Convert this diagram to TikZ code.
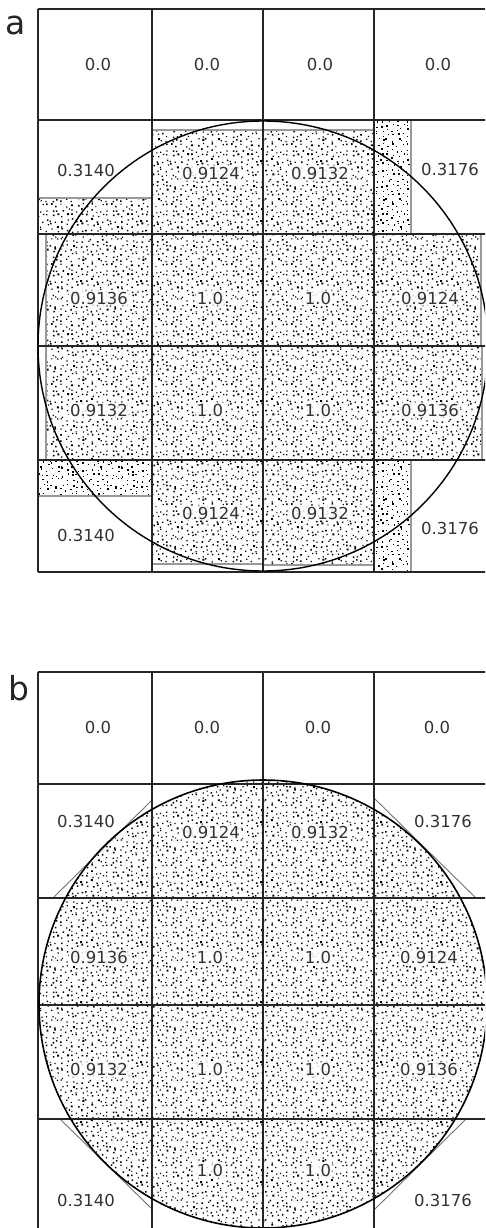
\documentclass[tikz,border=0pt]{standalone}
\usepackage{fontspec}
\newfontfamily\lblfont{DejaVu Sans}
\usetikzlibrary{patterns}

\pgfdeclarepatternformonly{stipple}{\pgfqpoint{0pt}{0pt}}{\pgfqpoint{60pt}{60pt}}{\pgfqpoint{60pt}{60pt}}{%
  \pgfmathsetseed{2024}%
  \foreach \i in {0,...,11}{%
    \foreach \j in {0,...,11}{%
      \pgfmathsetmacro\px{\i*5+rnd*4.0}%
      \pgfmathsetmacro\py{\j*5+rnd*4.0}%
      \pgfmathsetmacro\pr{rnd}%
      \pgfmathsetmacro\ps{\pr<0.12 ? 2.0 : (\pr<0.45 ? 1.55 : 1.25)}%
      \pgfpathrectangle{\pgfqpoint{\px pt}{\py pt}}{\pgfqpoint{\ps pt}{\ps pt}}%
      \pgfusepath{fill}%
    }%
  }%
}

\begin{document}
\begin{tikzpicture}[x=1pt,y=-1pt,
  gridline/.style={line width=1.4pt, draw=black!85},
  stipplebox/.style={pattern=stipple, pattern color=black, draw=black!40, line width=1.2pt},
  ring/.style={line width=1.4pt, draw=black},
  tanline/.style={line width=0.9pt, draw=black!55},
  val/.style={font=\lblfont\fontsize{16.5}{19}\selectfont, text=black!80, inner sep=1.5pt},
  valbg/.style={val, fill=white, fill opacity=0.85, text opacity=1, rounded corners=2pt},
  panel/.style={font=\lblfont\fontsize{33}{36}\selectfont, text=black!85, inner sep=0pt, anchor=base}]

\fill[white] (0,0) rectangle (485,1228);
\useasboundingbox (0,0) rectangle (485,1228);
\clip (0,0) rectangle (485,1228);

% ---------- panel a ----------
\foreach \xa/\ya/\xb/\yb in {38/198/152/234, 152/130/263/234, 263/130/374/234, 374/120/411/234,
  46/234/152/346, 152/234/263/346, 263/234/374/346, 374/234/481/346,
  46/346/152/460, 152/346/263/460, 263/346/374/460, 374/346/482/460,
  38/460/152/496, 152/460/263/564, 263/460/374/565, 374/460/411/572}
  \path[stipplebox] (\xa,\ya) rectangle (\xb,\yb);

\foreach \x in {38,152,263,374,487} \draw[gridline] (\x,9) -- (\x,572);
\foreach \y in {9,120,234,346,460,572} \draw[gridline] (38,\y) -- (487,\y);

\draw[ring] (263,346) circle[radius=225pt];

% ---------- panel b ----------
\fill[pattern=stipple, pattern color=black] (263,1004) circle[radius=224pt];

\coordinate (tl1) at (53,898);  \coordinate (tl2) at (152,800);
\coordinate (tr1) at (374,798); \coordinate (tr2) at (476,898);
\coordinate (bl1) at (60,1119); \coordinate (bl2) at (152,1209);
\coordinate (br1) at (466,1119);\coordinate (br2) at (374,1210);
\draw[tanline] (tl1) -- (tl2);
\draw[tanline] (tr1) -- (tr2);
\draw[tanline] (bl1) -- (bl2);
\draw[tanline] (br1) -- (br2);

\foreach \x in {38,152,263,374,487} \draw[gridline] (\x,672) -- (\x,1240);
\foreach \y in {672,784,898,1005,1119} \draw[gridline] (38,\y) -- (487,\y);

\draw[ring, line width=1.6pt] (263,1004) circle[radius=224pt];

% ---------- labels panel a ----------
\node[panel] (lbla) at (16,35) {a};
\node[val] (a00) at (98,64) {0.0};
\node[val] (a01) at (207,64) {0.0};
\node[val] (a02) at (320,64) {0.0};
\node[val] (a03) at (438,64) {0.0};
\node[val] (a10) at (86,170) {0.3140};
\node[valbg] (a11) at (211,173) {0.9124};
\node[valbg] (a12) at (320,173) {0.9132};
\node[val] (a13) at (450,169) {0.3176};
\node[valbg] (a20) at (99,298) {0.9136};
\node[valbg] (a21) at (210,298) {1.0};
\node[valbg] (a22) at (318,298) {1.0};
\node[valbg] (a23) at (430,298) {0.9124};
\node[valbg] (a30) at (99,410) {0.9132};
\node[valbg] (a31) at (210,410) {1.0};
\node[valbg] (a32) at (318,410) {1.0};
\node[valbg] (a33) at (430,410) {0.9136};
\node[val] (a40) at (86,535) {0.3140};
\node[valbg] (a41) at (211,513) {0.9124};
\node[valbg] (a42) at (320,513) {0.9132};
\node[val] (a43) at (450,528) {0.3176};

% ---------- labels panel b ----------
\node[panel] (lblb) at (19,700) {b};
\node[val] (b00) at (98,727) {0.0};
\node[val] (b01) at (207,727) {0.0};
\node[val] (b02) at (318,727) {0.0};
\node[val] (b03) at (437,727) {0.0};
\node[val] (b10) at (86,821) {0.3140};
\node[valbg] (b11) at (211,832) {0.9124};
\node[valbg] (b12) at (320,832) {0.9132};
\node[val] (b13) at (443,821) {0.3176};
\node[valbg] (b20) at (99,957) {0.9136};
\node[valbg] (b21) at (210,957) {1.0};
\node[valbg] (b22) at (318,957) {1.0};
\node[valbg] (b23) at (429,957) {0.9124};
\node[valbg] (b30) at (99,1069) {0.9132};
\node[valbg] (b31) at (210,1069) {1.0};
\node[valbg] (b32) at (318,1069) {1.0};
\node[valbg] (b33) at (429,1069) {0.9136};
\node[valbg] (b41) at (210,1170) {1.0};
\node[valbg] (b42) at (318,1170) {1.0};
\node[val] (b40) at (86,1200) {0.3140};
\node[val] (b43) at (443,1200) {0.3176};
\end{tikzpicture}
\end{document}
